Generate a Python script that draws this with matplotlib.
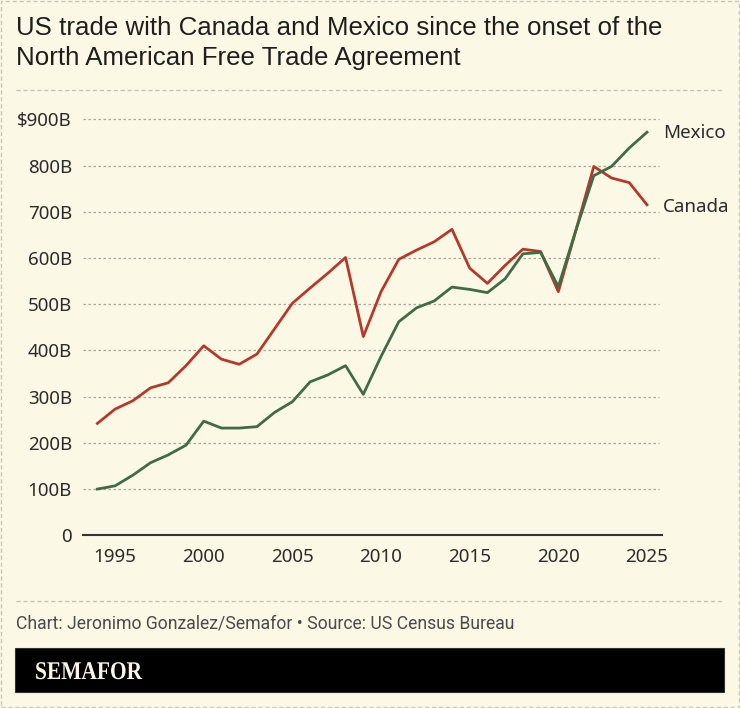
import matplotlib
matplotlib.use('Agg')
import matplotlib.pyplot as plt
from matplotlib.patches import Rectangle, PathPatch
from matplotlib.lines import Line2D
from matplotlib.textpath import TextPath
from matplotlib.font_manager import FontProperties
from matplotlib.transforms import Affine2D
import numpy as np

# data (US trade, billions of dollars)
years = list(range(1994, 2026))
canada = [242, 273, 291, 319, 330, 367, 410, 381, 370, 392, 447, 502, 535, 567, 601, 430,
          527, 597, 617, 635, 662, 578, 545, 584, 619, 614, 527, 661, 798, 773, 763, 715]
mexico = [100, 107, 130, 157, 174, 195, 247, 232, 232, 235, 266, 289, 332, 347, 367, 305,
          387, 462, 492, 507, 537, 532, 525, 555, 609, 612, 538, 661, 778, 798, 838, 872]
yticks = [0, 100, 200, 300, 400, 500, 600, 700, 800, 900]
ytick_labels = ['0', '100B', '200B', '300B', '400B', '500B', '600B', '700B', '800B', '$900B']
xticks = [1995, 2000, 2005, 2010, 2015, 2020, 2025]

bg = '#fcf8e6'
red = '#b33a2b'
green = '#3f6b46'
txt = '#2b2b2b'

W, H = 740, 708
fig = plt.figure(figsize=(W/100, H/100), dpi=100)
fig.patch.set_facecolor(bg)

ax = fig.add_axes([83/W, 1-535.3/H, (661.7-83)/W, (535.3-119.3)/H])
ax.set_facecolor(bg)
ax.plot(years, canada, color=red, lw=2.0, clip_on=False, zorder=3)
ax.plot(years, mexico, color=green, lw=2.0, clip_on=False, zorder=3)
ax.set_xlim(1993.19, 2025.83)
ax.set_ylim(0, 900)

for s in ['top', 'right', 'left']:
    ax.spines[s].set_visible(False)
ax.spines['bottom'].set_color('#333333')
ax.spines['bottom'].set_linewidth(1.5)

ax.set_yticks(yticks)
ax.set_yticklabels(ytick_labels)
ax.set_xticks(xticks)
ax.tick_params(axis='both', length=0, labelsize=13.5, labelcolor=txt)
ax.tick_params(axis='y', pad=8)
ax.tick_params(axis='x', pad=9)
for lab in ax.get_xticklabels() + ax.get_yticklabels():
    lab.set_fontfamily('Noto Sans')

# dotted gridlines (stop a bit short of axis end)
for v in yticks[1:]:
    ax.plot([1993.19, 2025.65], [v, v], color='#a9a79e', lw=0.9, ls=(0, (2, 2)), zorder=1, clip_on=False)

ax.text(2025.9, mexico[-1] - 1, 'Mexico', fontsize=13.5, color=txt, va='center', ha='left', family='Noto Sans')
ax.text(2025.9, canada[-1] - 4, 'Canada', fontsize=13.5, color=txt, va='center', ha='left', family='Noto Sans')

# title
fig.text(16/W, 1-35/H, 'US trade with Canada and Mexico since the onset of the',
         fontsize=18.6, color='#1e1e1e', va='baseline', ha='left', family='Liberation Sans')
fig.text(16/W, 1-65.5/H, 'North American Free Trade Agreement',
         fontsize=18.6, color='#1e1e1e', va='baseline', ha='left', family='Liberation Sans')

# dashed separators and border
for yy in [90, 601]:
    fig.add_artist(Line2D([16/W, 724/W], [1-yy/H, 1-yy/H], color='#c7c4b8', lw=1.0, ls=(0, (3, 2))))
fig.add_artist(Rectangle((1/W, 1/H), (W-2)/W, (H-2)/H, fill=False, ec='#c9c6ba', lw=1.0, ls=(0, (3, 2))))

fig.text(16/W, 1-628/H, 'Chart: Jeronimo Gonzalez/Semafor \u2022 Source: US Census Bureau',
         fontsize=12.7, color='#4a4a4a', va='baseline', ha='left', family='Roboto')

# logo box
fig.add_artist(Rectangle((15/W, 1-692/H), (724-15)/W, (692-648)/H, fc='black', ec='#333333', lw=0.8))
logo = TextPath((0, 0), 'SEMAFOR', size=25.5,
                prop=FontProperties(family='Liberation Serif', weight='bold'))
fig.add_artist(PathPatch(logo, fc='#fbf7e4', ec='none',
                         transform=Affine2D().scale(0.84, 1).translate(35, H-679)))

fig.savefig('out.png', dpi=100, facecolor=bg)
